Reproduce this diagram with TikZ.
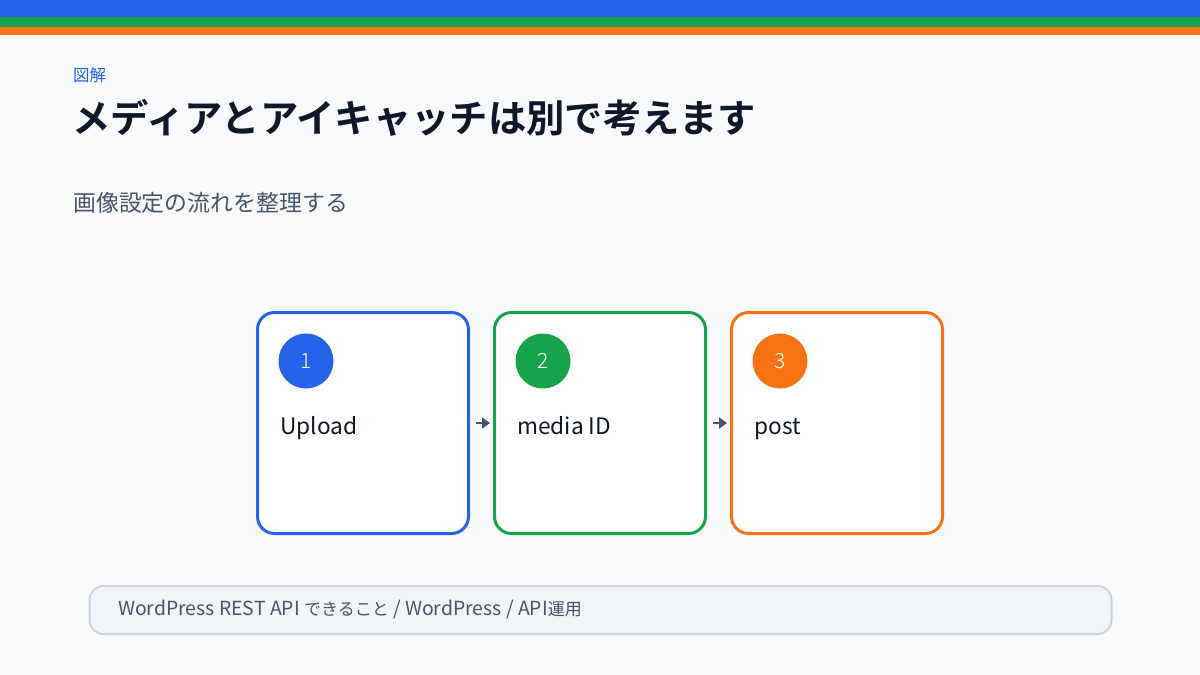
\documentclass[tikz,border=0pt]{standalone}
\usepackage{fontspec}
\setmainfont{Noto Sans CJK JP}
\newfontfamily\jpbold{Noto Sans CJK JP Bold}
\newfontfamily\jplight{Noto Sans CJK JP Light}
\usetikzlibrary{arrows.meta}
\definecolor{bg}{HTML}{F8FAFC}
\definecolor{cblue}{HTML}{2563EB}
\definecolor{cgreen}{HTML}{16A34A}
\definecolor{corange}{HTML}{F97316}
\definecolor{ink}{HTML}{0F172A}
\definecolor{slate}{HTML}{475569}
\definecolor{barfill}{HTML}{F1F5F9}
\definecolor{barline}{HTML}{CBD5E1}
\newcommand{\latseg}[1]{{\fontsize{19.4}{22}\selectfont #1}}
\tikzset{
  stepcard/.style={draw=#1, line width=3pt, fill=white, rounded corners=17pt, minimum width=211pt, minimum height=221pt, inner sep=0pt},
  badge/.style={circle, fill=#1, minimum size=55pt, inner sep=0pt, text=white, font=\jplight\fontsize{21}{24}\selectfont},
  steplabel/.style={anchor=base west, text=ink, font=\fontsize{22.7}{26}\selectfont, inner sep=0pt},
  flow/.style={-{Triangle[length=8pt,width=11pt]}, draw=slate, line width=2.5pt, shorten <=6pt, shorten >=3pt},
}
\begin{document}
\begin{tikzpicture}[x=1pt,y=-1pt]
\useasboundingbox (0,0) rectangle (1200,675);
\fill[bg] (0,0) rectangle (1200,675);
\fill[cblue] (0,0) rectangle (1200,17);
\fill[cgreen] (0,17) rectangle (1200,27);
\fill[corange] (0,27) rectangle (1200,35);
\node[anchor=west, inner sep=0pt, text=cblue, font=\fontsize{16.5}{19}\selectfont] (kicker) at (73,75) {図解};
\node[anchor=west, inner sep=0pt, text=ink, font=\jpbold\fontsize{38.3}{44}\selectfont] (title) at (72,118) {メディアとアイキャッチは別で考えます};
\node[anchor=west, inner sep=0pt, text=slate, font=\fontsize{22.9}{26}\selectfont] (sub) at (73,203) {画像設定の流れを整理する};
\node[stepcard=cblue] (c1) at (363,423) {};
\node[stepcard=cgreen] (c2) at (600,423) {};
\node[stepcard=corange] (c3) at (837,423) {};
\node[badge=cblue] (b1) at (306,361) {1};
\node[badge=cgreen] (b2) at (543,361) {2};
\node[badge=corange] (b3) at (780,361) {3};
\node[steplabel] (l1) at (280,434) {Upload};
\node[steplabel] (l2) at (517,434) {media ID};
\node[steplabel] (l3) at (754,434) {post};
\draw[flow] (c1.east) -- (c2.west);
\draw[flow] (c2.east) -- (c3.west);
\node[draw=barline, line width=2pt, fill=barfill, rounded corners=14pt, minimum width=1022pt, minimum height=48pt, inner sep=0pt] (bar) at (600.5,610) {};
\node[anchor=base west, inner sep=0pt, text=slate, font=\fontsize{17}{20}\selectfont] (bartext) at (118,615) {\latseg{WordPress REST API }できること\latseg{ / WordPress / API}運用};
\end{tikzpicture}
\end{document}
